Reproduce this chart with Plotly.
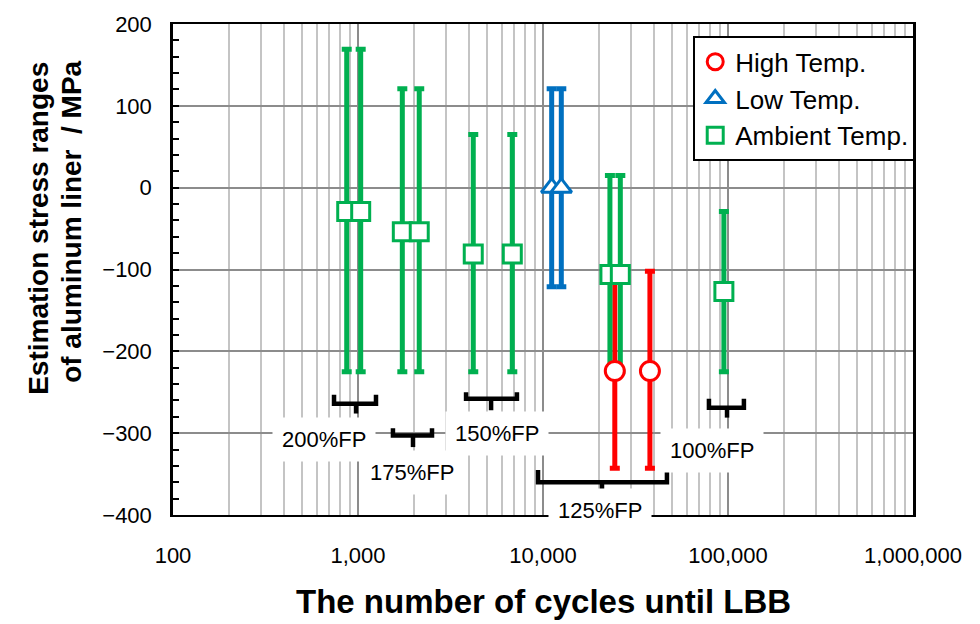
import numpy as np
import plotly.graph_objects as go

# ---- data: cycles until LBB and estimated stress ranges (MPa) ----
ambient_cycles = [869, 1034, 1736, 2143, 4198, 6823, 23000, 26180, 95000]
ambient_stress = [-29, -29, -54, -54, -81, -81, -106, -106, -127]
ambient_upper = [169, 169, 121, 121, 65, 65, 15, 15, -29]
ambient_lower = [-225, -225, -225, -225, -225, -225, -225, -225, -225]

low_cycles = [11140, 12560]
low_stress = [0, 0]
low_upper = [121, 121]
low_lower = [-121, -121]

high_cycles = [24440, 37840]
high_stress = [-224, -224]
high_upper = [-102, -102]
high_lower = [-343, -343]

# load-level groups: label, bracket span (cycles) and label anchor
group_labels = ["200%FP", "175%FP", "150%FP", "125%FP", "100%FP"]
bracket_left = [742, 1545, 3838, 9400, 78880]
bracket_right = [1251, 2512, 7228, 46770, 121900]
bracket_mid = [976, 1983, 5240, 20840, 98800]
bracket_top = [-253, -294, -250, -345, -258]
bracket_bar = [-264, -303, -258, -360, -269]
bracket_tip = [-276, -317, -272, -376, -281]
label_x = [655, 1959, 5634, 20320, 82000]
label_y = [-308, -348, -300, -394, -321]

x_ticks = [100, 1000, 10000, 100000, 1000000]

RED = "#FF0000"
BLUE = "#0070C0"
GREEN = "#00B050"
FONT = "Arial, Liberation Sans, sans-serif"

series = [
    ("High Temp.", high_cycles, high_stress, high_upper, high_lower, RED, "circle", 19),
    ("Low Temp.", low_cycles, low_stress, low_upper, low_lower, BLUE, "triangle-up", 18),
    ("Ambient Temp.", ambient_cycles, ambient_stress, ambient_upper, ambient_lower, GREEN, "square", 18),
]

fig = go.Figure()

# error bars first so that every marker sits on top of every bar
for name, xs, ys, up, lo, col, sym, sz in series:
    ys_a = np.array(ys, dtype=float)
    fig.add_trace(go.Scatter(
        x=xs, y=ys, mode="markers",
        marker=dict(size=1, opacity=0),
        error_y=dict(type="data", symmetric=False,
                     array=(np.array(up) - ys_a).tolist(),
                     arrayminus=(ys_a - np.array(lo)).tolist(),
                     color=col, thickness=5, width=5),
        showlegend=False, hoverinfo="skip",
    ))

for name, xs, ys, up, lo, col, sym, sz in series:
    fig.add_trace(go.Scatter(
        x=xs, y=ys, mode="markers", name=name,
        marker=dict(symbol=sym, size=sz, color="white",
                    line=dict(color=col, width=3)),
    ))

# brackets grouping each load level
bx, by = [], []
for xl, xr, xm, yt, yb, ytip in zip(bracket_left, bracket_right, bracket_mid,
                                   bracket_top, bracket_bar, bracket_tip):
    bx += [xl, xl, xr, xr, None, xm, xm, None]
    by += [yt, yb, yb, yt, None, yb, ytip, None]
fig.add_trace(go.Scatter(x=bx, y=by, mode="lines",
                         line=dict(color="black", width=4.5),
                         showlegend=False, hoverinfo="skip"))

annotations = []
for txt, lx, ly in zip(group_labels, label_x, label_y):
    annotations.append(dict(
        x=np.log10(lx), y=ly, xref="x", yref="y", text=txt, showarrow=False,
        font=dict(family=FONT, size=22, color="black"),
        bgcolor="white", borderpad=9, xanchor="center", yanchor="middle"))

# axis titles
annotations += [
    dict(x=-0.181, y=0.583, xref="paper", yref="paper", text="<b>Estimation stress ranges</b>",
         textangle=-90, showarrow=False, xanchor="center", yanchor="middle",
         font=dict(family=FONT, size=28, color="black")),
    dict(x=-0.1365, y=0.597, xref="paper", yref="paper", text="<b>of aluminum liner\u00a0 / MPa</b>",
         textangle=-90, showarrow=False, xanchor="center", yanchor="middle",
         font=dict(family=FONT, size=28, color="black")),
    dict(x=0.501, y=-0.177, xref="paper", yref="paper", text="<b>The number of cycles until LBB</b>",
         showarrow=False, xanchor="center", yanchor="middle",
         font=dict(family=FONT, size=33, color="black")),
]

fig.update_layout(
    width=980, height=624,
    margin=dict(l=173, r=67, t=19, b=109),
    paper_bgcolor="white", plot_bgcolor="white",
    font=dict(family=FONT, color="black"),
    annotations=annotations,
    legend=dict(x=0.703, y=0.975, xanchor="left", yanchor="top",
                bgcolor="white", bordercolor="black", borderwidth=2,
                font=dict(family=FONT, size=26, color="black"),
                tracegroupgap=0),
    xaxis=dict(type="log", range=[2, 6], tickvals=x_ticks, tickformat=",d",
               showgrid=True, gridcolor="#8c8c8c", gridwidth=1.5,
               minor=dict(showgrid=True, gridcolor="#c4c4c4", gridwidth=1.5, dtick="D1"),
               showline=True, linecolor="black", linewidth=2, mirror=True,
               ticks="", ticklabelstandoff=20,
               tickfont=dict(family=FONT, size=22, color="black"), zeroline=False),
    yaxis=dict(range=[-400, 200], dtick=100,
               showgrid=True, gridcolor="#8c8c8c", gridwidth=1.5,
               showline=True, linecolor="black", linewidth=2.5, mirror=True,
               ticks="inside", ticklen=6, tickwidth=2, tickcolor="black",
               minor=dict(dtick=20, ticks="inside", ticklen=6, tickwidth=2,
                          tickcolor="black", showgrid=False),
               ticklabelstandoff=14, zeroline=False,
               tickfont=dict(family=FONT, size=22, color="black")),
)

fig.write_html("out.html")
